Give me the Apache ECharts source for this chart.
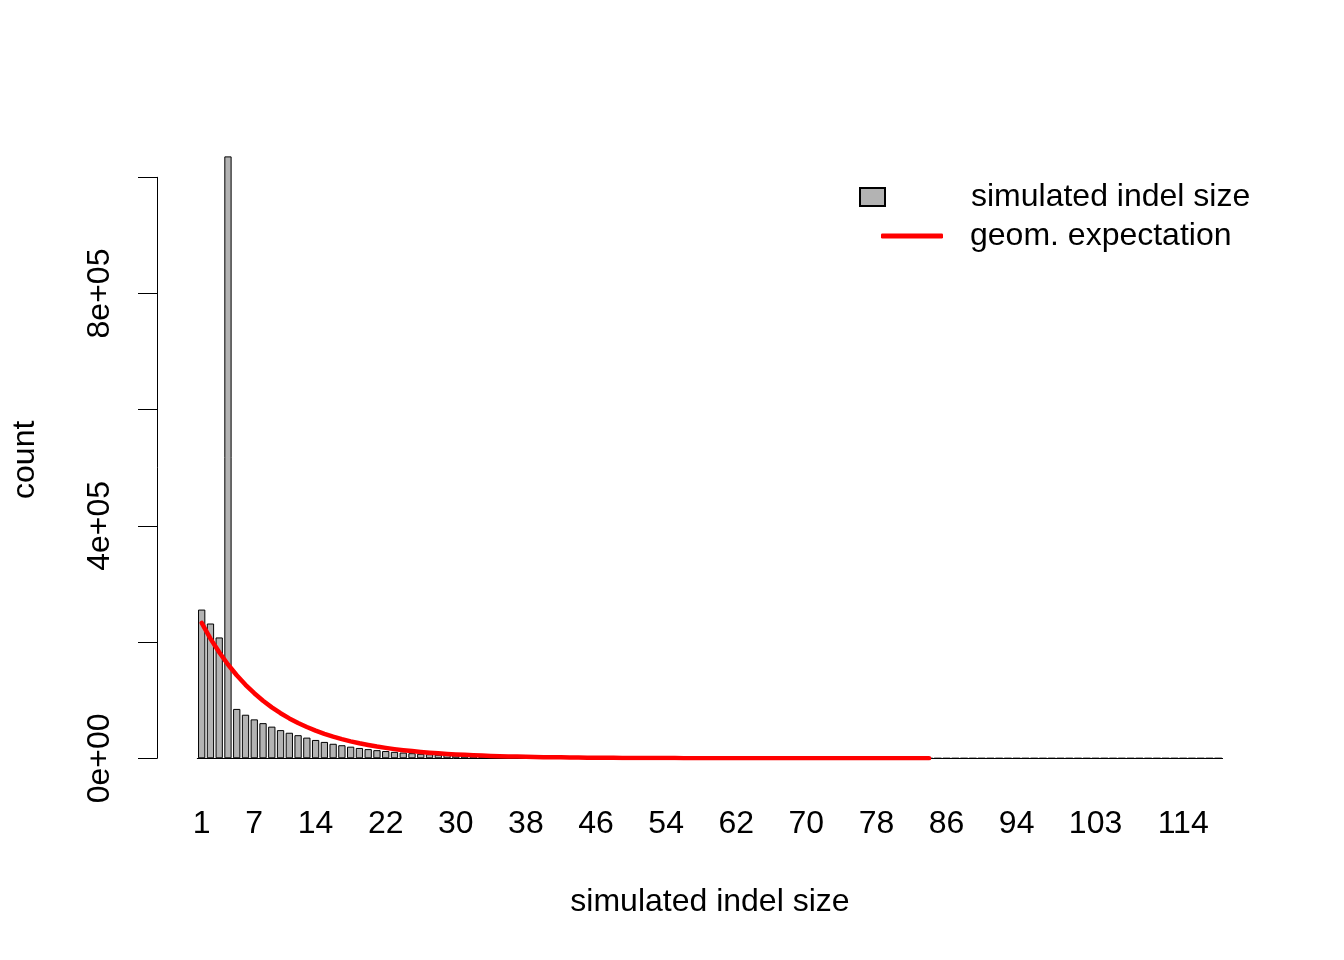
<!DOCTYPE html>
<html>
<head>
<meta charset="utf-8">
<title>simulated indel size</title>
<script src="https://cdn.jsdelivr.net/npm/echarts@6/dist/echarts.min.js"></script>
<style>
html, body { margin: 0; padding: 0; background: #fff; }
#chart { width: 1344px; height: 960px; }
</style>
</head>
<body>
<div id="chart"></div>
<script>
// indel sizes (one size between 103 and 114 never occurs)
var sizes = ['1','2','3','4','5','6','7','8','9','10',
	'11','12','13','14','15','16','17','18','19','20',
	'21','22','23','24','25','26','27','28','29','30',
	'31','32','33','34','35','36','37','38','39','40',
	'41','42','43','44','45','46','47','48','49','50',
	'51','52','53','54','55','56','57','58','59','60',
	'61','62','63','64','65','66','67','68','69','70',
	'71','72','73','74','75','76','77','78','79','80',
	'81','82','83','84','85','86','87','88','89','90',
	'91','92','93','94','95','96','97','98','99','100',
	'101','102','103','104','105','106','107','108','109','111',
	'112','113','114','115','116','117','118'];

// simulated counts per size
var counts = [256000, 232000, 208000, 1036000, 85000, 75000, 67000, 60500, 54500, 48500,
	44000, 39800, 35600, 31600, 28200, 25000, 22500, 20000, 17800, 15800,
	14000, 12500, 11100, 9900, 8800, 7800, 7000, 6200, 5500, 4900,
	4400, 3900, 3500, 3100, 2700, 2400, 2200, 1900, 1700, 1500,
	1350, 1200, 1050, 950, 850, 750, 650, 600, 520, 470,
	420, 370, 330, 290, 260, 230, 200, 180, 160, 140,
	125, 110, 98, 87, 77, 68, 60, 53, 47, 42,
	37, 33, 29, 26, 23, 20, 18, 16, 14, 12,
	11, 10, 9, 8, 7, 6, 5, 5, 4, 4,
	3, 3, 3, 2, 2, 2, 2, 1, 1, 1,
	1, 1, 1, 1, 1, 1, 1, 1, 1, 1,
	1, 1, 1, 1, 1, 1, 1];

// geometric expectation (sizes 1..84)
var expected = [233000, 206000, 182500, 161500, 143000, 126500, 112000, 99000, 87700, 77600,
	68700, 60800, 53800, 47600, 42100, 37300, 33000, 29200, 25800, 22900,
	20200, 17900, 15800, 14000, 12400, 11000, 9700, 8600, 7600, 6700,
	6000, 5300, 4700, 4100, 3700, 3200, 2900, 2500, 2200, 2000,
	1800, 1600, 1400, 1200, 1100, 970, 860, 760, 670, 600,
	530, 470, 410, 370, 320, 290, 250, 230, 200, 180,
	160, 140, 120, 110, 97, 86, 76, 67, 59, 53,
	47, 41, 37, 32, 29, 25, 23, 20, 18, 16,
	14, 12, 11, 10];

// labels R managed to fit on the axes
var xLabels = ['1','7','14','22','30','38','46','54','62','70','78','86','94','103','114'];
var yTicks = [0, 200000, 400000, 600000, 800000, 1000000];
var yLabels = ['0e+00', '', '4e+05', '', '8e+05', ''];

var font = '"Liberation Sans", Arial, Helvetica, sans-serif';
var fs = 32;
var myChart = echarts.init(document.getElementById('chart'));
var option = {
	animation: false,
	backgroundColor: '#ffffff',
	textStyle: { fontFamily: font, color: '#000' },
	grid: {
		left: 197.3, right: 121.4, top: 177.3, bottom: 201.7,
		containLabel: false, outerBoundsMode: 'none'
	},
	legend: [
		{
			data: [{ name: 'simulated indel size', icon: 'rect' }],
			left: 859, top: 181, padding: 0,
			itemWidth: 25, itemHeight: 18,
			textStyle: { fontSize: fs, color: '#000', fontFamily: font, padding: [3, 0, 0, 81] },
			selectedMode: false
		},
		{
			data: [{ name: 'geom. expectation', icon: 'roundRect' }],
			left: 881, top: 220, padding: 0,
			itemWidth: 62, itemHeight: 5,
			itemStyle: { color: '#ff0000', borderWidth: 0 },
			textStyle: { fontSize: fs, color: '#000', fontFamily: font, padding: [3, 0, 0, 22] },
			selectedMode: false
		}
	],
	xAxis: {
		type: 'category',
		data: sizes,
		name: 'simulated indel size',
		nameLocation: 'middle',
		nameGap: 128,
		nameTextStyle: { fontSize: fs, color: '#000', fontFamily: font },
		axisLine: { show: true, lineStyle: { color: '#000', width: 1 } },
		axisTick: { show: false },
		axisLabel: {
			fontSize: fs, color: '#000', fontFamily: font, margin: 50,
			interval: function(index, value) {
				return xLabels.indexOf(value) >= 0;
			}
		},
		splitLine: { show: false }
	},
	yAxis: {
		type: 'value',
		min: 0, max: 1000000, interval: 200000,
		offset: 40.3,
		name: 'count',
		nameLocation: 'middle',
		nameGap: 116,
		nameTextStyle: { fontSize: fs, color: '#000', fontFamily: font, padding: [0, 0, 0, 16] },
		axisLine: { show: true, lineStyle: { color: '#000', width: 1 } },
		axisTick: { show: true, length: 19, lineStyle: { color: '#000', width: 1 } },
		axisLabel: {
			rotate: 90, fontSize: fs, color: '#000', fontFamily: font, margin: 41,
			formatter: function(value) {
				var i = yTicks.indexOf(value);
				return i >= 0 ? yLabels[i] : '';
			}
		},
		splitLine: { show: false }
	},
	series: [
		{
			name: 'simulated indel size',
			type: 'bar',
			data: counts,
			barCategoryGap: '16.7%',
			clip: false,
			itemStyle: { color: '#b3b3b3', borderColor: '#000', borderWidth: 1 }
		},
		{
			name: 'geom. expectation',
			type: 'line',
			data: expected,
			symbol: 'none',
			itemStyle: { color: '#ff0000' },
			lineStyle: { color: '#ff0000', width: 4.5, cap: 'round', join: 'round' },
			z: 3
		}
	]
};
myChart.setOption(option);
</script>
</body>
</html>
